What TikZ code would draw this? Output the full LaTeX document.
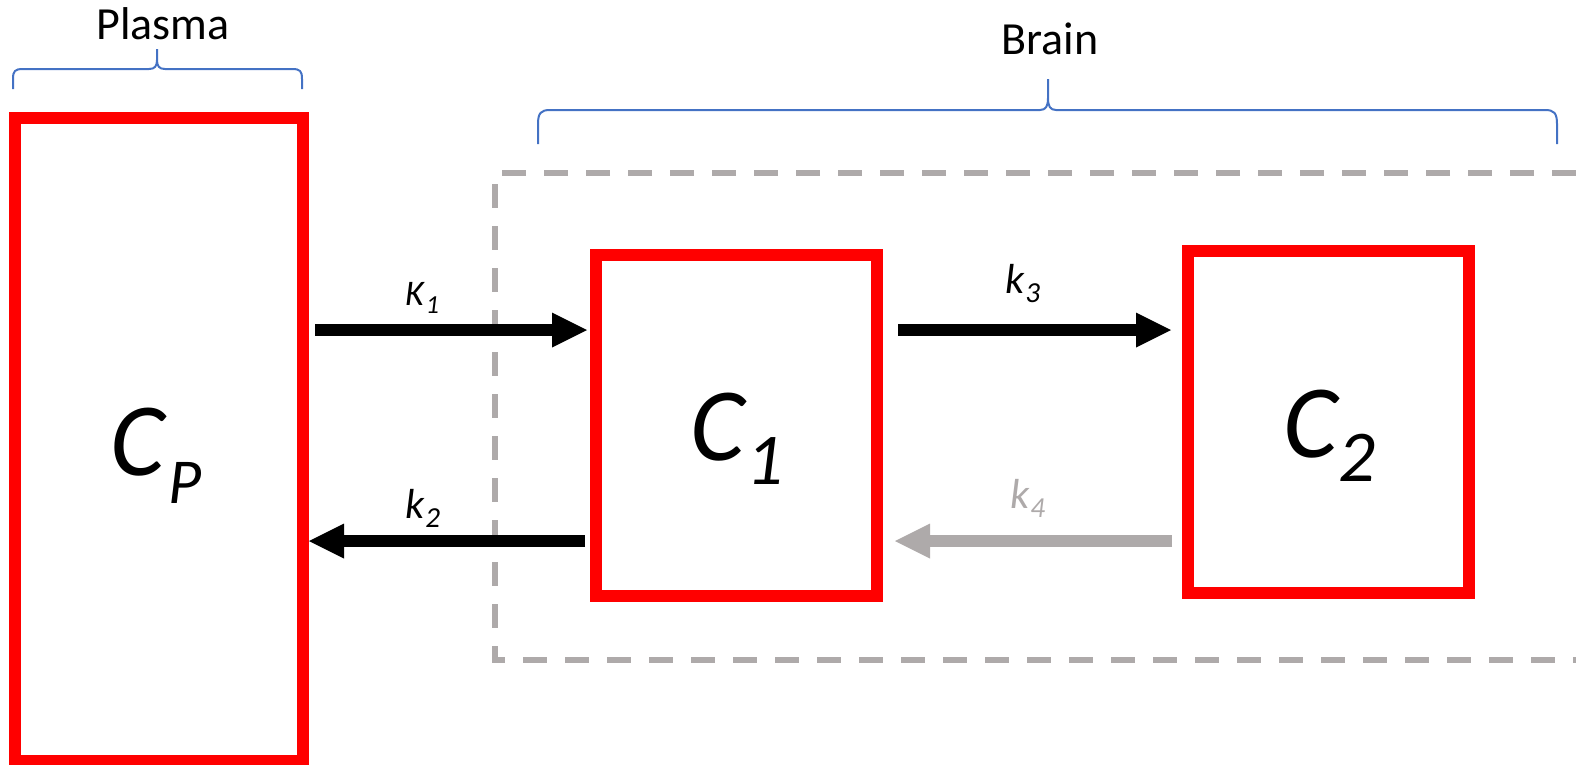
\documentclass[tikz,border=0pt]{standalone}
\usepackage{fontspec}
\setmainfont{Carlito}
\usetikzlibrary{arrows.meta}
\definecolor{boxred}{RGB}{255,0,0}
\definecolor{dashgray}{RGB}{174,170,170}
\definecolor{braceblue}{RGB}{68,114,196}
\begin{document}
\begin{tikzpicture}[x=1pt,y=-1pt,
  compbox/.style={draw=boxred, line width=12pt, inner sep=0pt, outer sep=0pt, rectangle},
  flowarrow/.style={line width=12pt, -{Triangle[length=35pt,width=35pt,line width=0pt]}},
  brainline/.style={draw=dashgray, line width=6pt, dash pattern=on 24pt off 18pt},
  bracestyle/.style={draw=braceblue, line width=2pt},
  toplabel/.style={inner sep=0pt, anchor=base, font=\fontsize{46}{55}\selectfont},
  conclabel/.style={inner sep=0pt, anchor=base west, font=\fontsize{104}{120}\selectfont\itshape},
  ratelabel/.style={inner sep=0pt, anchor=base west, font=\fontsize{42}{50}\selectfont\itshape}
]
\useasboundingbox (0,0) rectangle (1576,764);

% brain region (dashed, open to the right)
\draw[brainline] (1576,173) -- (495,173) -- (495,660) -- (1576,660);

% braces
\draw[bracestyle] (13,89) -- (13,79) .. controls (13,71) and (15,69) .. (23,69) -- (149,69)
  .. controls (155,69) and (157,66) .. (157,60) -- (157,49)
  -- (157,60) .. controls (157,66) and (159,69) .. (165,69) -- (292,69)
  .. controls (300,69) and (302,71) .. (302,79) -- (302,89);
\draw[bracestyle] (538,144) -- (538,124) .. controls (538,113) and (541,110) .. (550,110) -- (1040,110)
  .. controls (1046,110) and (1048,106) .. (1048,98) -- (1048,79)
  -- (1048,98) .. controls (1048,106) and (1050,110) .. (1056,110) -- (1545,110)
  .. controls (1554,110) and (1557,113) .. (1557,124) -- (1557,144);

\node[toplabel] (plasma) at (163,39) {Plasma};
\node[toplabel] (brain) at (1050,54) {Brain};

% compartments
\node[compbox, minimum width=288.5pt, minimum height=643.5pt] (Cp) at (158.75,439.25) {};
\node[compbox, minimum width=281pt, minimum height=341.5pt] (C1) at (736.5,425.25) {};
\node[compbox, minimum width=281pt, minimum height=341.5pt] (C2) at (1328.5,421.75) {};

\node[conclabel] (cpl) at (110,475) {C\kern4pt\raisebox{-28pt}{\fontsize{64}{70}\selectfont P}};
\node[conclabel] (c1l) at (690,460) {C\kern2pt\raisebox{-24pt}{\fontsize{73}{80}\selectfont 1}};
\node[conclabel] (c2l) at (1283,457) {C\kern1pt\raisebox{-24pt}{\fontsize{73}{80}\selectfont 2}};

% arrow rows
\coordinate (rowtop) at (0,330);
\coordinate (rowbot) at (0,541);

\draw[flowarrow] ([xshift=12pt]Cp.east |- rowtop) -- ([xshift=-9pt]C1.west |- rowtop);
\draw[flowarrow] ([xshift=-11pt]C1.west |- rowbot) -- ([xshift=6pt]Cp.east |- rowbot);
\draw[flowarrow] ([xshift=21pt]C1.east |- rowtop) -- ([xshift=-17pt]C2.west |- rowtop);
\draw[flowarrow, draw=dashgray, color=dashgray] ([xshift=-16pt]C2.west |- rowbot) -- ([xshift=18pt]C1.east |- rowbot);

\node[ratelabel, font=\fontsize{36}{40}\selectfont\itshape] (k1) at (405,305) {K\kern2pt\raisebox{-8pt}{\fontsize{26}{30}\selectfont 1}};
\node[ratelabel] (k2) at (405,518) {k\kern1pt\raisebox{-9pt}{\fontsize{29}{32}\selectfont 2}};
\node[ratelabel] (k3) at (1005,293) {k\kern1pt\raisebox{-9pt}{\fontsize{29}{32}\selectfont 3}};
\node[ratelabel, text=dashgray] (k4) at (1010,508) {k\kern1pt\raisebox{-9pt}{\fontsize{29}{32}\selectfont 4}};
\end{tikzpicture}
\end{document}
